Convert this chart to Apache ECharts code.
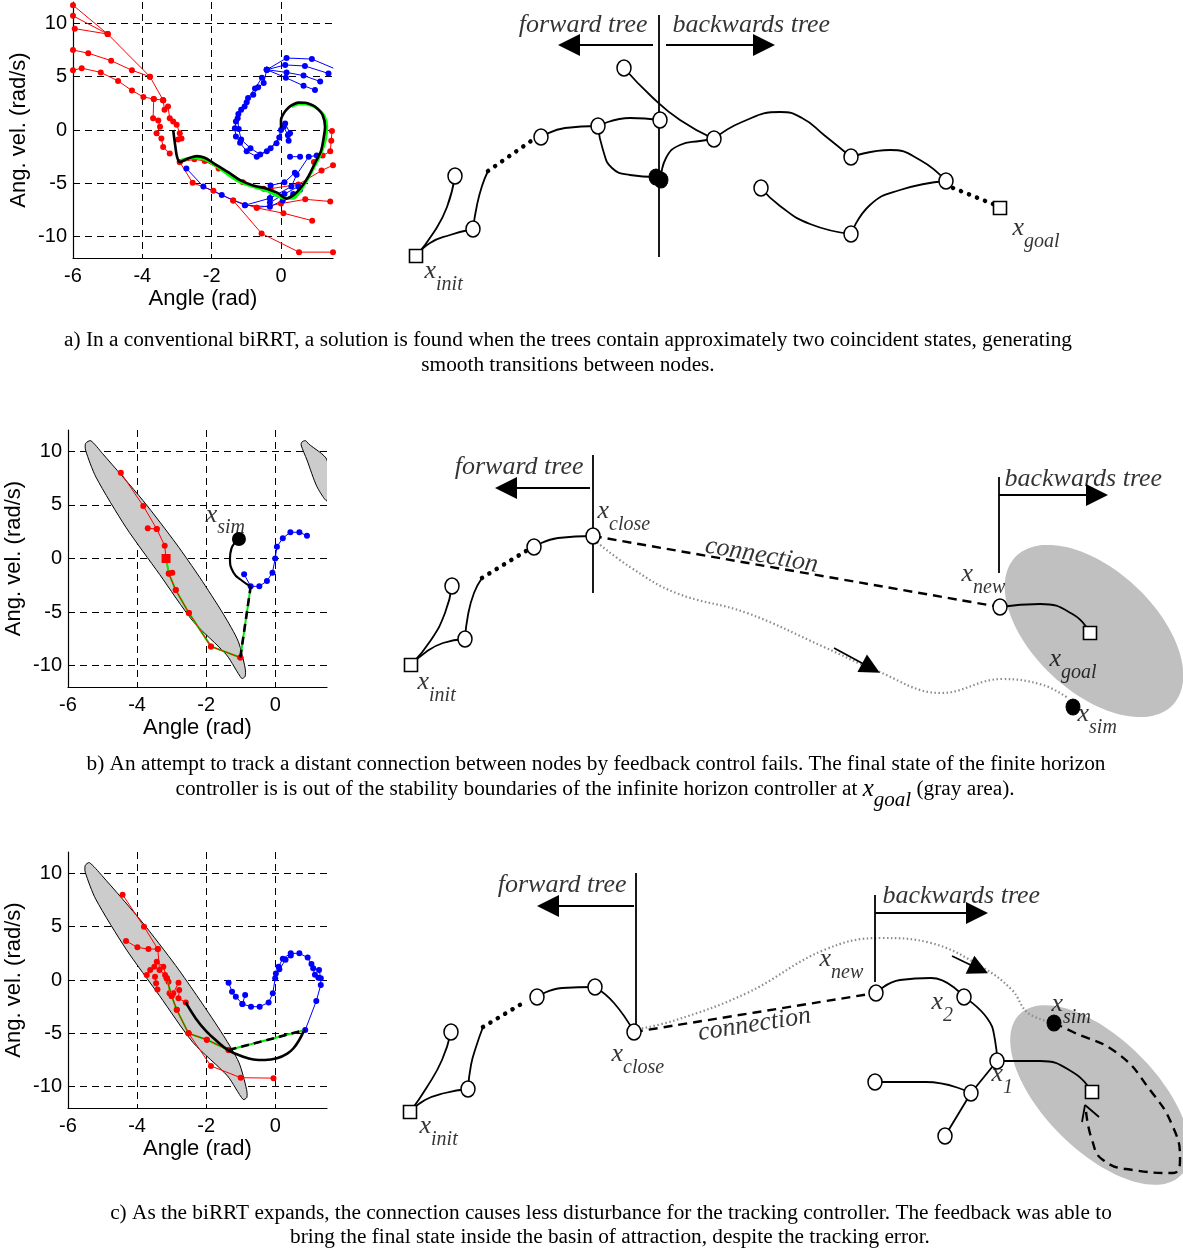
<!DOCTYPE html>
<html><head><meta charset="utf-8">
<script src="https://cdn.jsdelivr.net/npm/echarts@6/dist/echarts.min.js"></script>
<style>html,body{margin:0;padding:0;background:#fff}#c{width:1183px;height:1253px}</style>
</head><body><div id="c"></div>
<script>
// ---------- tick labels ----------
const xTicks = [-6, -4, -2, 0];
const yTicks = [-10, -5, 0, 5, 10];

// ---------- plot a (phase plane) ----------
const aRed = [
  [[-6,11.7],[-5.0,9.0],[-3.78,5.0],[-3.4,2.8]],
  [[-6,10.7],[-5.0,9.0]],
  [[-5.95,9.5],[-5.0,9.0]],
  [[-6,7.5],[-5.56,7.2],[-4.9,6.5],[-4.3,5.6],[-3.78,5.0]],
  [[-6,5.6],[-5.75,5.8],[-5.2,5.4],[-4.7,4.6],[-4.3,3.7],[-3.97,3.1],[-3.67,2.9],[-3.4,2.8]],
  [[-3.4,2.8],[-3.36,1.9],[-3.26,2.2],[-3.21,1.1],[-3.11,0.8],[-3.01,0.5],[-2.92,-0.3],[-2.97,-0.9],[-2.87,-0.8]],
  [[-3.67,2.9],[-3.69,1.1],[-3.54,0.9],[-3.49,0.3],[-3.59,-0.3],[-3.45,-0.8],[-3.4,-1.6],[-3.21,-2.2]],
  [[-2.92,-3.0],[-2.55,-4.95],[-1.95,-5.7],[-1.38,-6.6],[-0.7,-7.3],[0.0,-6.9],[0.7,-6.5],[1.42,-6.7]],
  [[-1.38,-6.6],[-0.56,-9.7],[0.52,-11.45],[1.5,-11.45]],
  [[-0.7,-7.3],[0.07,-7.8],[0.9,-8.5]],
  [[-0.3,-5.5],[0.5,-5.1],[1.17,-3.8],[1.5,-3.3]],
  [[0.95,-3.0],[1.2,-2.4],[1.42,-2.0],[1.45,-1.0],[1.47,-0.1]],
  [[-2.92,-3.0],[-2.5,-2.75],[-2.2,-2.9],[-1.8,-3.6],[-1.1,-4.9],[-0.5,-5.5]]
];
const aBlue = [
  [[-0.41,5.65],[0.16,6.75],[0.89,6.65],[1.51,5.8]],
  [[-0.41,5.65],[0.12,6.1],[0.69,6.0],[1.37,5.3]],
  [[-0.41,5.65],[0.16,5.4],[0.65,5.1],[1.13,4.55]],
  [[-0.41,5.65],[0.14,4.9],[0.65,4.15],[0.98,3.75]],
  [[-0.41,5.65],[-0.5,4.4],[-0.66,4.0],[-0.8,3.3],[-0.99,2.6],[-1.05,2.2],[-1.23,1.5],[-1.3,0.8],[-1.33,0.16],[-1.3,-0.6],[-1.18,-1.2],[-0.99,-2.0],[-0.7,-2.5],[-0.41,-2.0],[-0.13,-1.25],[0.0,0.0],[0.12,0.6],[0.26,-0.3]],
  [[-0.55,4.9],[-0.75,3.9],[-0.95,3.0],[-1.15,1.9],[-1.25,1.1],[-1.22,0.1],[-1.15,-0.9],[-0.88,-1.7],[-0.6,-2.3],[-0.3,-1.7],[-0.05,-0.7],[0.08,0.3],[0.2,-0.5],[0.22,-1.0]],
  [[-2.73,-3.6],[-2.24,-5.3],[-1.71,-6.1],[-1.04,-7.05],[-0.32,-6.4],[0.3,-5.3],[0.45,-4.2],[0.8,-2.5],[1.03,-2.4]],
  [[-1.04,-7.05],[-0.32,-7.2],[0.05,-6.6],[0.35,-6.0],[0.55,-5.6]],
  [[-0.32,-6.4],[-0.3,-5.2],[0.1,-4.9],[0.4,-4.0]],
  [[-0.32,-6.8],[0.1,-6.0],[0.5,-5.3]],
  [[0.26,-2.5],[0.55,-2.5]]
];
const aGreen = [[-2.9,-2.85],[-2.5,-2.6],[-2.2,-2.75],[-1.9,-3.3],[-1.2,-4.85],[-0.4,-5.7],[0.1,-6.4],[0.35,-6.4],[0.6,-5.5],[0.95,-3.5],[1.15,-2.2],[1.28,-0.9],[1.32,0.3],[1.25,1.3],[1.05,2.0],[0.85,2.35],[0.55,2.45],[0.3,2.2]];
const aBlack = [[-3.11,0],[-3.05,-1.5],[-3.0,-2.5],[-2.92,-3.0],[-2.7,-2.7],[-2.43,-2.45],[-2.2,-2.6],[-1.95,-3.1],[-1.5,-4.0],[-1.18,-4.7],[-0.8,-5.2],[-0.41,-5.5],[-0.1,-5.9],[0.16,-6.43],[0.4,-6.0],[0.6,-5.3],[0.8,-4.3],[0.98,-3.1],[1.15,-2.0],[1.22,-0.94],[1.27,0.3],[1.2,1.4],[1.05,2.0],[0.89,2.35],[0.7,2.55],[0.5,2.57],[0.3,2.3],[0.16,1.9],[0.05,1.4],[0,0.94],[0,0.16]];

// ---------- plot b ----------
const bBasin = [[-5.34,11.0],[-5.0,9.8],[-3.83,5.42],[-2.86,1.35],[-2.18,-1.79],[-1.5,-5.2],[-1.07,-7.74],[-0.87,-10.25],[-0.87,-11.0],[-0.97,-11.2],[-1.41,-9.0],[-2.38,-5.86],[-3.35,-1.47],[-4.32,2.9],[-5.19,7.6],[-5.49,10.1],[-5.49,10.75]];
const bBasin2 = [[0.78,10.9],[0.88,11.0],[0.97,10.7],[1.5,9.2],[1.5,5.4],[1.21,6.7],[0.92,9.2],[0.75,10.6]];
const bRed = [
  [[-4.47,8.0],[-3.82,4.9],[-3.43,2.76],[-3.2,1.19],[-3.16,0]],
  [[-3.69,2.82],[-3.43,2.76]],
  [[-3.16,0],[-3.08,-1.41],[-2.98,-1.32]],
  [[-3.08,-1.41],[-2.88,-2.95],[-2.5,-5.08],[-1.86,-8.21],[-1.01,-9.25]]
];
const bRedSquare = [[-3.16,0]];
const bGreen = [[-3.16,0],[-3.08,-1.41],[-2.88,-2.95],[-2.5,-5.08],[-1.86,-8.21],[-1.01,-9.25],[-0.71,-2.6]];
const bConnect = [[-1.01,-9.25],[-0.71,-2.6]];
const bSimPath = [[-0.71,-2.6],[-0.95,-2.1],[-1.21,-1.3],[-1.31,0.0],[-1.27,0.9],[-1.15,1.55],[-1.05,1.82]];
const bSim = [[-1.05,1.82]];
const bBlue = [[-0.9,-1.47],[-0.71,-2.6],[-0.46,-2.6],[-0.24,-2.1],[-0.08,-1.32],[0,0],[0.05,1.1],[0.22,1.9],[0.44,2.45],[0.7,2.45],[0.92,2.13]];
const bSimLabel = [-2.0, 4.0];

// ---------- plot c ----------
const cBasin = [[-5.38,11.0],[-5.02,9.8],[-3.85,5.42],[-2.88,1.35],[-2.2,-1.79],[-1.5,-5.2],[-1.05,-7.74],[-0.83,-10.25],[-0.82,-11.0],[-0.93,-11.2],[-1.38,-9.0],[-2.38,-5.86],[-3.35,-1.47],[-4.32,2.9],[-5.2,7.6],[-5.5,10.1],[-5.5,10.75]];
const cRed = [
  [[-4.42,8.0],[-3.8,5.0],[-3.4,2.9],[-3.35,0.94],[-3.19,0.47],[-3.09,-0.16],[-3.06,-1.25],[-2.95,-1.25],[-2.8,-0.25]],
  [[-4.32,3.66],[-3.99,3.06],[-3.67,2.9],[-3.4,2.9]],
  [[-3.72,0.47],[-3.62,0.94],[-3.5,1.25],[-3.43,1.72],[-3.24,1.25],[-3.14,0.16]],
  [[-3.48,0.31],[-3.45,-0.31],[-3.41,-0.88]],
  [[-2.78,-0.94],[-2.8,-1.72],[-2.59,-2.1]],
  [[-3.14,0.16],[-3.0,-1.5],[-2.85,-2.8],[-2.51,-5.0],[-1.98,-5.6],[-1.35,-6.56]],
  [[-2.51,-5.0],[-1.86,-8.06],[-1.0,-9.16],[-0.05,-9.2]]
];
const cGreen = [[-3.14,0.16],[-3.0,-1.5],[-2.85,-2.8],[-2.51,-5.0],[-1.98,-5.6],[-1.35,-6.56],[0.87,-4.69]];
const cConnect = [[-1.35,-6.56],[0.87,-4.69]];
const cBlack = [[-2.59,-2.1],[-2.3,-3.6],[-2.0,-4.8],[-1.7,-5.7],[-1.35,-6.6],[-1.0,-7.1],[-0.63,-7.45],[-0.3,-7.5],[0.05,-7.34],[0.35,-6.9],[0.53,-6.4],[0.7,-5.6],[0.82,-4.84]];
const cBlue = [
  [[-1.35,-0.25],[-1.25,-1.1],[-1.14,-1.56],[-0.95,-2.25],[-0.7,-2.5],[-0.45,-2.5],[-0.19,-2.1],[-0.07,-1.25],[0,0.16],[0.1,1.25],[0.22,2.0],[0.45,2.5],[0.7,2.5],[0.94,2.1],[1.1,1.1],[1.27,0.94],[1.32,0.16],[1.32,-0.47],[1.19,-1.97],[0.87,-4.69]],
  [[-0.87,-1.4],[-0.95,-2.25]],
  [[0.02,0.6],[0.12,1.0],[0.3,1.9],[0.45,2.3]],
  [[1.05,1.5],[1.15,0.5],[1.25,0.2]]
];

// ---------- diagram a (schematic units) ----------
const dA = {
  open: [[65,176],[83,229],[151,137],[208,126],[270,120],[234,68],[324,139],[461,157],[556,181],[371,188],[461,234]],
  square: [[26,256],[610,208]],
  filled: [[266,177],[271,180]],
  edges: [
    [[26,256],[44,232],[57,207],[65,176]],
    [[26,256],[40,243],[60,235],[83,229]],
    [[83,229],[87,205],[92,186],[98,171]],
    [[151,137],[175,128],[208,126]],
    [[208,126],[240,118],[270,120]],
    [[208,126],[213,150],[222,168],[240,175],[266,177]],
    [[234,68],[262,97],[290,120],[324,139]],
    [[271,180],[276,158],[290,145],[310,141],[324,139]],
    [[324,139],[352,122],[390,112],[412,118],[434,135],[461,157]],
    [[461,157],[500,150],[530,160],[556,181]],
    [[371,188],[390,206],[420,224],[461,234]],
    [[461,234],[480,205],[510,190],[556,181]]
  ],
  dots: [[[98,171],[141,141]], [[563,188],[603,204]]],
  vlines: [[[269,15],[269,257]]],
  arrows: [[[263,45],[179,45]], [[276,45],[374,45]]],
  labels: [
    ['forward tree','',258,26,'right',0],
    ['backwards tree','',283,26,'left',0],
    ['x','init',35,272,'left',0],
    ['x','goal',623,229,'left',0]
  ]
};
// ---------- diagram b ----------
const dB = {
  open: [[62,156],[75,209],[144,117],[203,106],[610,177]],
  square: [[21,235],[700,203]],
  filled: [[683,277]],
  edges: [
    [[21,235],[41,210],[55,183],[62,156]],
    [[21,235],[36,222],[53,213],[75,209]],
    [[75,209],[78,185],[84,163],[92,148]],
    [[144,117],[168,108],[203,106]],
    [[610,177],[650,174],[684,185],[700,203]]
  ],
  dots: [[[92,148],[136,121]]],
  dashed: [[[203,106],[610,177]]],
  gray: [[204,110],[240,137],[286,163],[357,183],[434,217],[485,240],[551,263],[612,249],[653,255],[678,268]],
  vlines: [[[203,25],[203,163]], [[609,47],[609,143]]],
  arrows: [[[200,58],[116,58]], [[609,65],[707,65]]],
  smallArrows: [[[444,218],[481,238]]],
  ellipse: [704,201,108,61,43],
  labels: [
    ['forward tree','',194,38,'right',0],
    ['backwards tree','',615,50,'left',0],
    ['x','close',208,82,'left',0],
    ['x','new',572,145,'left',0],
    ['x','goal',660,230,'left',0],
    ['x','sim',688,285,'left',0],
    ['x','init',28,253,'left',0],
    ['connection','',372,126,'center',-10]
  ]
};
// ---------- diagram c ----------
const dC = {
  open: [[61,177],[78,234],[147,142],[205,132],[244,177],[486,138],[574,142],[607,206],[581,238],[485,227],[555,281]],
  square: [[20,257],[702,237]],
  filled: [[664,168]],
  edges: [
    [[20,257],[37,232],[52,205],[61,177]],
    [[20,257],[35,245],[55,238],[78,234]],
    [[78,234],[81,210],[86,192],[93,172]],
    [[147,142],[172,133],[205,132]],
    [[205,132],[224,148],[244,177]],
    [[486,138],[510,125],[541,123],[574,142]],
    [[574,142],[597,163],[605,185],[607,206]],
    [[607,206],[650,206],[684,218],[702,237]],
    [[607,206],[581,238]],
    [[485,227],[536,227],[581,238]],
    [[581,238],[555,281]],
    [[695,250],[692,267]],
    [[695,250],[709,262]]
  ],
  dots: [[[93,172],[133,148]]],
  dashed: [[[244,177],[486,138]], [[664,168],[683,177],[727,198],[760,235],[783,272],[790,305],[783,318],[743,315],[713,305],[702,285],[696,256]]],
  gray: [[244,175],[286,165],[357,138],[434,95],[490,83],[541,88],[592,112],[622,135],[638,158],[664,168]],
  vlines: [[[246,18],[246,175]], [[485,40],[485,127]]],
  arrows: [[[244,51],[158,51]], [[485,58],[587,58]]],
  smallArrows: [[[562,101],[589,114]]],
  ellipse: [710,240,114,56,45],
  labels: [
    ['forward tree','',237,31,'right',0],
    ['backwards tree','',493,42,'left',0],
    ['x','init',30,272,'left',0],
    ['x','close',222,200,'left',0],
    ['x','new',430,105,'left',0],
    ['x','2',542,148,'left',0],
    ['x','1',602,220,'left',0],
    ['x','sim',662,150,'left',0],
    ['connection','',365,170,'center',9]
  ]
};

// ---------- captions ----------
const captionA = ['a) In a conventional biRRT, a solution is found when the trees contain approximately two coincident states, generating', 'smooth transitions between nodes.'];
const captionB = ['b) An attempt to track a distant connection between nodes by feedback control fails. The final state of the finite horizon', 'controller is is out of the stability boundaries of the infinite horizon controller at ', 'goal', ' (gray area).'];
const captionC = ['c) As the biRRT expands, the connection causes less disturbance for the tracking controller. The feedback was able to', 'bring the final state inside the basin of attraction, despite the tracking error.'];

// =====================================================
const SANS = 'Liberation Sans', SERIF = 'Liberation Serif';
const chart = echarts.init(document.getElementById('c'));
const grids = [], xAxes = [], yAxes = [], series = [];

const plotBoxes = [
  {left:73, top:2, width:260, height:256},
  {left:68, top:430, width:259, height:257},
  {left:68, top:852, width:259, height:256}
];
plotBoxes.forEach((b, i) => {
  grids.push(Object.assign({}, b));
  xAxes.push({
    gridIndex:i, type:'value', min:-6, max:1.5,
    name:'Angle (rad)', nameLocation:'middle', nameGap:30,
    nameTextStyle:{fontFamily:SANS, fontSize:22, color:'#000'},
    axisLine:{show:true, onZero:false, lineStyle:{color:'#000', width:1.2}},
    axisTick:{show:false, customValues:xTicks},
    axisLabel:{color:'#000', fontFamily:SANS, fontSize:20, margin:8, customValues:xTicks},
    splitLine:{show:true, lineStyle:{color:'#000', width:1, type:[7,5]}}
  });
  yAxes.push({
    gridIndex:i, type:'value', min:-12, max:12,
    name:'Ang. vel. (rad/s)', nameLocation:'middle', nameGap:43,
    nameTextStyle:{fontFamily:SANS, fontSize:22, color:'#000'},
    axisLine:{show:true, onZero:false, lineStyle:{color:'#000', width:1.2}},
    axisTick:{show:false, customValues:yTicks},
    axisLabel:{color:'#000', fontFamily:SANS, fontSize:20, margin:6, customValues:yTicks},
    splitLine:{show:true, lineStyle:{color:'#000', width:1, type:[7,5]}}
  });
});
const diagBoxes = [
  {left:390, top:0, width:793, height:300},
  {left:390, top:430, width:793, height:300},
  {left:390, top:855, width:793, height:340}
];
diagBoxes.forEach((b, k) => {
  const i = k + 3;
  grids.push(Object.assign({}, b));
  xAxes.push({gridIndex:i, type:'value', min:0, max:b.width, show:false});
  yAxes.push({gridIndex:i, type:'value', min:0, max:b.height, inverse:true, show:false});
});

function pline(gi, pts, color, width, extra) {
  return Object.assign({
    type:'line', xAxisIndex:gi, yAxisIndex:gi, data:pts, symbol:'none',
    silent:true, animation:false, lineStyle:{color:color, width:width}, z:2
  }, extra || {});
}
function pdots(gi, pts, color, z) {
  return pline(gi, pts, color, 1, {symbol:'circle', symbolSize:6, showSymbol:true,
    itemStyle:{color:color, borderWidth:0, opacity:1}, z:z || 2});
}
function polySeries(gi, pts, fill) {
  return {type:'custom', xAxisIndex:gi, yAxisIndex:gi, data:[pts[0]], z:0, silent:true, animation:false,
    renderItem:(params, api) => {
      const cs = params.coordSys;
      return {type:'polygon', shape:{points:pts.map(p => api.coord(p)), smooth:0.25},
        style:{fill:fill, stroke:'#000', lineWidth:1},
        clipPath:{type:'rect', shape:{x:cs.x, y:cs.y, width:cs.width, height:cs.height}}};
    }};
}
function ellipseSeries(gi, e) {
  return {type:'custom', xAxisIndex:gi, yAxisIndex:gi, data:[e], z:0, silent:true, animation:false,
    dimensions:['cx','cy','a','b','ang'], encode:{x:0, y:1},
    renderItem:(params, api) => {
      const cx = api.value(0), cy = api.value(1), a = api.value(2), b = api.value(3), th = api.value(4) * Math.PI / 180;
      const pts = [];
      for (let k = 0; k < 120; k++) {
        const t = 2 * Math.PI * k / 120, ex = a * Math.cos(t), ey = b * Math.sin(t);
        pts.push(api.coord([cx + ex * Math.cos(th) - ey * Math.sin(th), cy + ex * Math.sin(th) + ey * Math.cos(th)]));
      }
      return {type:'polygon', shape:{points:pts}, style:{fill:'#c0c0c0'}};
    }};
}
const richX = {
  x:{fontFamily:SERIF, fontStyle:'italic', fontSize:26, lineHeight:26, verticalAlign:'middle', color:'#000'},
  s:{fontFamily:SERIF, fontStyle:'italic', fontSize:20, lineHeight:46, verticalAlign:'bottom', color:'#000'},
  t:{fontFamily:SERIF, fontStyle:'italic', fontSize:26, lineHeight:30, color:'#000'}
};
function labelSeries(gi, labels) {
  return {type:'scatter', xAxisIndex:gi, yAxisIndex:gi, symbolSize:1, silent:true, animation:false, z:6,
    itemStyle:{color:'rgba(0,0,0,0)'},
    data: labels.map(l => ({
      value:[l[2], l[3]],
      label:{show:true, position:[0,0], align:l[4], verticalAlign:'middle', rotate:l[5],
        formatter: l[1] ? '{x|' + l[0] + '}{s|' + l[1] + '}' : '{t|' + l[0] + '}',
        rich:richX}
    }))};
}
function arrowSeries(gi, arr, width, size) {
  return {type:'lines', coordinateSystem:'cartesian2d', xAxisIndex:gi, yAxisIndex:gi, silent:true, animation:false, z:4,
    symbol:['none','triangle'], symbolSize:size,
    lineStyle:{color:'#000', width:width, opacity:1, curveness:0},
    itemStyle:{color:'#000'},
    data: arr.map(c => ({coords:c}))};
}
const nodeStyle = {color:'#fff', borderColor:'#000', borderWidth:1.6, opacity:1};
function diagram(gi, d) {
  if (d.ellipse) series.push(ellipseSeries(gi, d.ellipse));
  if (d.gray) series.push(pline(gi, d.gray, '#8c8c8c', 2.2, {smooth:0.4, lineStyle:{color:'#8c8c8c', width:2.2, type:[1.5,2.5]}}));
  d.edges.forEach(e => series.push(pline(gi, e, '#000', 1.8, {smooth:0.5, z:3})));
  d.dots.forEach(e => series.push(pline(gi, e, '#000', 4.5, {z:3, lineStyle:{color:'#000', width:4.5, type:[0.1,8.5], cap:'round'}})));
  (d.dashed || []).forEach(e => series.push(pline(gi, e, '#000', 2.4, {smooth:0.5, z:3, lineStyle:{color:'#000', width:2.4, type:[9,6]}})));
  d.vlines.forEach(e => series.push(pline(gi, e, '#000', 1.8, {z:3})));
  series.push(arrowSeries(gi, d.arrows, 2, [11,22]));
  if (d.smallArrows) series.push(arrowSeries(gi, d.smallArrows, 1.8, [9,20]));
  series.push({type:'scatter', xAxisIndex:gi, yAxisIndex:gi, data:d.open, symbol:'circle', symbolSize:[14,16], z:5, silent:true, animation:false,
    itemStyle:nodeStyle});
  series.push({type:'scatter', xAxisIndex:gi, yAxisIndex:gi, data:d.square, symbol:'rect', symbolSize:13, z:5, silent:true, animation:false,
    itemStyle:nodeStyle});
  series.push({type:'scatter', xAxisIndex:gi, yAxisIndex:gi, data:d.filled, symbol:'circle', symbolSize:[14,16], z:5, silent:true, animation:false,
    itemStyle:{color:'#000', borderColor:'#000', borderWidth:1, opacity:1}});
  series.push(labelSeries(gi, d.labels));
}

// plot a
aRed.forEach(t => series.push(pdots(0, t, '#ff0000', 2)));
aBlue.forEach(t => series.push(pdots(0, t, '#0000ff', 2)));
series.push(pline(0, aGreen, '#00ff00', 3, {z:3, smooth:0.3}));
series.push(pline(0, aBlack, '#000', 2.6, {z:4, smooth:0.3}));
// plot b
series.push(polySeries(1, bBasin, '#cccccc'));
series.push(polySeries(1, bBasin2, '#cccccc'));
bRed.forEach(t => series.push(pdots(1, t, '#ff0000', 2)));
series.push(pline(1, bGreen, '#00ee00', 2, {z:3}));
series.push(pdots(1, bRed[3], '#ff0000', 3.5));
series.push({type:'scatter', xAxisIndex:1, yAxisIndex:1, data:bRedSquare, symbol:'rect', symbolSize:9, itemStyle:{color:'#ff0000', opacity:1}, z:4, silent:true, animation:false});
series.push(pline(1, bConnect, '#000', 2.6, {z:4, lineStyle:{color:'#000', width:2.6, type:[8,5]}}));
series.push(pline(1, bSimPath, '#000', 2.2, {z:4, smooth:0.5}));
series.push(pdots(1, bBlue, '#0000ff', 3));
series.push({type:'scatter', xAxisIndex:1, yAxisIndex:1, data:bSim, symbol:'circle', symbolSize:14, itemStyle:{color:'#000', opacity:1}, z:5, silent:true, animation:false});
series.push(labelSeries(1, [['x','sim',bSimLabel[0],bSimLabel[1],'left',0]]));
// plot c
series.push(polySeries(2, cBasin, '#cccccc'));
cRed.forEach(t => series.push(pdots(2, t, '#ff0000', 2)));
series.push(pline(2, cGreen, '#00ee00', 2, {z:3}));
series.push(pdots(2, cRed[5], '#ff0000', 3.5));
series.push(pline(2, cBlack, '#000', 2.6, {z:4, smooth:0.4}));
series.push(pline(2, cConnect, '#000', 2.6, {z:4, lineStyle:{color:'#000', width:2.6, type:[8,5]}}));
cBlue.forEach(t => series.push(pdots(2, t, '#0000ff', 3)));
// diagrams
diagram(3, dA);
diagram(4, dB);
diagram(5, dC);

// captions
const CAP = 21.3;
const capStyle = {fontFamily:SERIF, fontSize:CAP, fill:'#000', align:'center', verticalAlign:'middle'};
function cap(x, y, text) { return {type:'text', x:x, y:y, silent:true, style:Object.assign({text:text}, capStyle)}; }
const graphics = [
  cap(568, 340, captionA[0]), cap(568, 365, captionA[1]),
  cap(596, 764, captionB[0]),
  {type:'text', x:595, y:789, silent:true, style:{
    text:'{n|' + captionB[1] + '}{x|x}{s|' + captionB[2] + '}{n|' + captionB[3] + '}',
    align:'center', verticalAlign:'middle',
    rich:{
      n:{fontFamily:SERIF, fontSize:CAP, lineHeight:22, verticalAlign:'middle', fill:'#000'},
      x:{fontFamily:SERIF, fontStyle:'italic', fontSize:25, lineHeight:22, verticalAlign:'middle', fill:'#000'},
      s:{fontFamily:SERIF, fontStyle:'italic', fontSize:21, lineHeight:44, verticalAlign:'bottom', fill:'#000'}
    }}},
  cap(611, 1213, captionC[0]), cap(610, 1237, captionC[1])
];

chart.setOption({
  animation:false,
  backgroundColor:'#fff',
  grid:grids, xAxis:xAxes, yAxis:yAxes,
  series:series,
  graphic:graphics
});
</script></body></html>
